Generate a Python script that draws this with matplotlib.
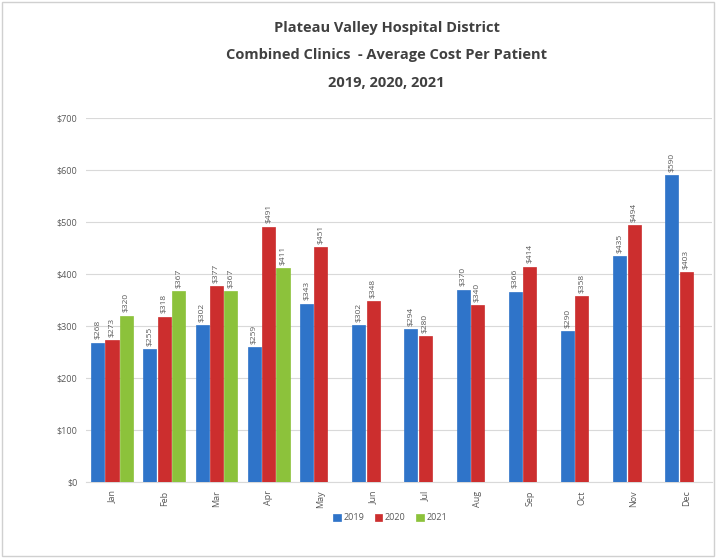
import matplotlib
matplotlib.use("Agg")
import matplotlib.pyplot as plt
import numpy as np
from matplotlib.patches import Rectangle

months = ["Jan", "Feb", "Mar", "Apr", "May", "Jun", "Jul", "Aug", "Sep", "Oct", "Nov", "Dec"]
cost_2019 = [268, 255, 302, 259, 343, 302, 294, 370, 366, 290, 435, 590]
cost_2020 = [273, 318, 377, 491, 451, 348, 280, 340, 414, 358, 494, 403]
cost_2021 = [320, 367, 367, 411]
y_ticks = [0, 100, 200, 300, 400, 500, 600, 700]

plt.rcParams['font.family'] = ['Open Sans', 'DejaVu Sans']

fig = plt.figure(figsize=(7.16, 5.58), dpi=100)
fig.patch.set_facecolor("white")
ax = fig.add_axes([0.12, 0.136, 0.875, 0.653])

x = np.arange(len(months))
w = 0.25
off = 0.275
series = [
    (cost_2019, "#2F74C9", "2019", -off),
    (cost_2020, "#CC2E2E", "2020", 0.0),
    (cost_2021, "#8CC23B", "2021", off),
]
for vals, col, lab, o in series:
    xs = x[:len(vals)] + o
    bars = ax.bar(xs, vals, width=w, color=col, label=lab, zorder=3,
                  edgecolor=col, linewidth=0.5)
    for xi, v in zip(xs, vals):
        ax.text(xi, v + 6, f"${v}", rotation=90, ha="center", va="bottom",
                fontsize=6, color="#595959", zorder=4)

ax.set_xlim(-0.5, 11.5)
ax.set_ylim(0, 700)
ax.set_yticks(y_ticks)
ax.set_yticklabels([f"${v}" for v in y_ticks], fontsize=6.5, color="#595959")
ax.set_xticks(x)
ax.set_xticklabels(months, rotation=90, fontsize=6.5, color="#595959")
ax.tick_params(axis="both", length=0, pad=6)
ax.grid(axis="y", color="#D9D9D9", linewidth=0.8, zorder=0)
for s in ["top", "right", "left"]:
    ax.spines[s].set_visible(False)
ax.spines["bottom"].set_color("#D9D9D9")

fig.text(0.54, 0.95, "Plateau Valley Hospital District", ha="center", va="center",
         fontsize=10.5, fontweight="bold", color="#404040")
fig.text(0.54, 0.902, "Combined Clinics  - Average Cost Per Patient", ha="center", va="center",
         fontsize=10.5, fontweight="bold", color="#404040")
fig.text(0.54, 0.852, "2019, 2020, 2021", ha="center", va="center",
         fontsize=10.5, fontweight="bold", color="#404040")

leg = fig.legend(loc="center", bbox_to_anchor=(0.545, 0.072), ncol=3, frameon=False,
                 fontsize=6.5, handlelength=0.8, handleheight=0.8, columnspacing=1.2,
                 handletextpad=0.3)
for t in leg.get_texts():
    t.set_color("#595959")

fig.patches.append(Rectangle((0.003, 0.003), 0.994, 0.994, transform=fig.transFigure,
                             fill=False, edgecolor="#D0D0D0", linewidth=1))

fig.savefig("out.png", dpi=100)
